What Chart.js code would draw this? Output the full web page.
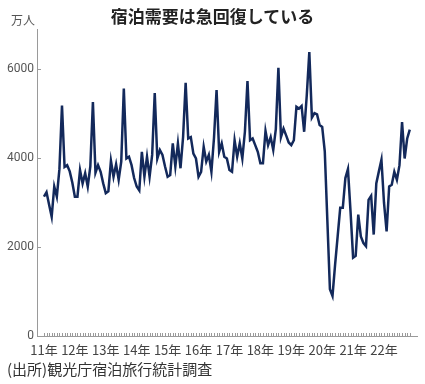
<!DOCTYPE html>
<html lang="ja">
<head>
<meta charset="utf-8">
<script src="https://cdn.jsdelivr.net/npm/chart.js@4"></script>
<style>
  html, body { margin: 0; padding: 0; background: #fff; }
  #wrap { position: relative; width: 425px; height: 384px; font-family: "Noto Sans CJK JP", "Noto Sans", sans-serif; }
  #chart { position: absolute; left: 0; top: 0; }
  .title { position: absolute; left: 0; width: 425px; top: 3px; text-align: center; font-size: 17px; font-weight: bold; color: #222; }
  .unit { position: absolute; left: 11px; top: 11px; font-size: 12px; color: #555; }
  .source { position: absolute; left: 7px; top: 358px; font-size: 15px; color: #333; }
</style>
</head>
<body>
<div id="wrap">
  <canvas id="chart" width="425" height="384"></canvas>
  <div class="title">宿泊需要は急回復している</div>
  <div class="unit">万人</div>
  <div class="source">(出所)観光庁宿泊旅行統計調査</div>
</div>
<script>
// 延べ宿泊者数（万人）, monthly, Jan 2011 - Nov 2022
const stays2011 = [3130, 3230, 2950, 2680, 3360, 3130, 3750, 5180, 3800, 3840, 3700, 3450];
const stays2012 = [3130, 3130, 3730, 3430, 3660, 3360, 3810, 5260, 3670, 3840, 3690, 3430];
const stays2013 = [3210, 3250, 3940, 3580, 3860, 3510, 3920, 5560, 3990, 4030, 3840, 3550];
const stays2014 = [3360, 3270, 4140, 3580, 4030, 3580, 4070, 5460, 3990, 4180, 4070, 3810];
const stays2015 = [3580, 3620, 4330, 3810, 4330, 3770, 4470, 5690, 4440, 4470, 4100, 3990];
const stays2016 = [3580, 3690, 4250, 3920, 4070, 3690, 4450, 5530, 4140, 4330, 4030, 3990];
const stays2017 = [3730, 3690, 4400, 4030, 4330, 3990, 4590, 5730, 4400, 4440, 4290, 4140];
const stays2018 = [3880, 3880, 4610, 4290, 4470, 4180, 4650, 6030, 4470, 4660, 4510, 4350];
const stays2019 = [4290, 4400, 5150, 5110, 5170, 4590, 5400, 6380, 4910, 5010, 4980, 4740];
const stays2020 = [4700, 4150, 2600, 1050, 900, 1600, 2240, 2880, 2880, 3550, 3750, 2800];
const stays2021 = [1760, 1800, 2730, 2240, 2090, 2020, 3060, 3150, 2280, 3430, 3700, 3960];
const stays2022 = [2990, 2350, 3360, 3400, 3690, 3510, 3840, 4810, 3990, 4440, 4640];

const yearLabels = ["11年", "12年", "13年", "14年", "15年", "16年", "17年", "18年", "19年", "20年", "21年", "22年"];
const yTicks = [0, 2000, 4000, 6000];

const stays = [].concat(
  stays2011, stays2012, stays2013, stays2014, stays2015, stays2016,
  stays2017, stays2018, stays2019, stays2020, stays2021, stays2022
);
const points = stays.map((value, index) => ({ x: index, y: value }));

const AXIS_COLOR = "#9a9a9a";
const TEXT_COLOR = "#444";
const FONT = "'Noto Sans CJK JP', 'Noto Sans', sans-serif";

// short tick marks drawn inward from both axes
const innerTicks = {
  id: "innerTicks",
  afterDatasetsDraw(chart) {
    const { ctx, scales: { x, y }, chartArea } = chart;
    ctx.save();
    ctx.strokeStyle = AXIS_COLOR;
    ctx.lineWidth = 1;
    ctx.beginPath();
    for (let i = 0; i < stays.length; i++) {
      const px = Math.round(x.getPixelForValue(i)) + 0.5;
      ctx.moveTo(px, chartArea.bottom);
      ctx.lineTo(px, chartArea.bottom - 3);
    }
    yTicks.forEach(value => {
      const py = Math.round(y.getPixelForValue(value)) + 0.5;
      ctx.moveTo(chartArea.left, py);
      ctx.lineTo(chartArea.left + 4, py);
    });
    ctx.stroke();
    ctx.restore();
  },
};

new Chart(document.getElementById("chart"), {
  type: "line",
  data: {
    datasets: [{
      data: points,
      borderColor: "#13295b",
      borderWidth: 2.5,
      pointRadius: 0,
      tension: 0,
      fill: false,
    }],
  },
  options: {
    responsive: false,
    animation: false,
    layout: { padding: { top: 29, right: 8, bottom: 28, left: 0 } },
    plugins: {
      legend: { display: false },
      tooltip: { enabled: false },
    },
    scales: {
      x: {
        type: "linear",
        min: -2.7,
        max: 144.8,
        afterBuildTicks: scale => {
          scale.ticks = yearLabels.map((_, i) => ({ value: i * 12 }));
        },
        afterFit: scale => { scale.height = 20; },
        grid: { display: false, drawTicks: false },
        border: { display: true, color: AXIS_COLOR, width: 1 },
        ticks: {
          autoSkip: false,
          maxRotation: 0,
          padding: 6,
          color: TEXT_COLOR,
          font: { family: FONT, size: 13 },
          callback: value => yearLabels[Math.round(value / 12)] ?? "",
        },
      },
      y: {
        min: 0,
        max: 6900,
        afterBuildTicks: scale => {
          scale.ticks = yTicks.map(value => ({ value }));
        },
        afterFit: scale => { scale.width = 37; },
        grid: { display: false, drawTicks: false },
        border: { display: true, color: AXIS_COLOR, width: 1 },
        ticks: {
          padding: 3,
          color: "#555",
          font: { family: "'Liberation Sans Narrow', Roboto, sans-serif", size: 12 },
          callback: value => String(value),
        },
      },
    },
  },
  plugins: [innerTicks],
});
</script>
</body>
</html>
